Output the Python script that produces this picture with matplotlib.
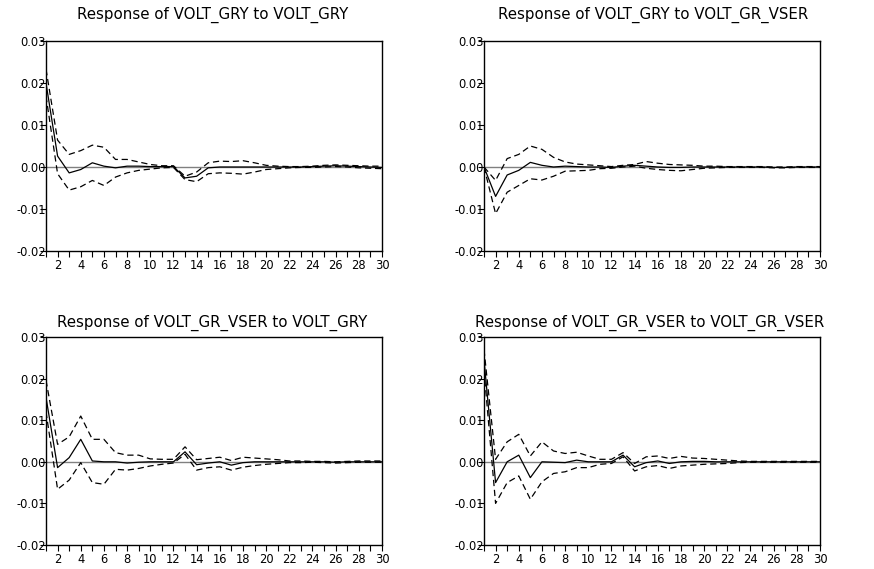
import matplotlib
matplotlib.use("Agg")
import matplotlib.pyplot as plt
import numpy as np

plt.rcParams['font.family'] = ['DejaVu Sans']

periods = list(range(1, 31))

# Response of VOLT_GRY to VOLT_GRY
gry_gry = [0.0200, 0.0026, -0.0014, -0.0006, 0.0010, 0.0002, -0.0002, 0.0002, 0.0002, 0.0001,
           0.0001, 0.0001, -0.0026, -0.0022, -0.0002, 0.0000, 0.0000, 0.0000, 0.0000, 0.0000,
           0.0000, 0.0000, 0.0000, 0.0001, 0.0002, 0.0003, 0.0002, 0.0001, 0.0000, -0.0001]
gry_gry_up = [0.0233, 0.0064, 0.0030, 0.0039, 0.0052, 0.0047, 0.0018, 0.0018, 0.0012, 0.0006,
              0.0003, 0.0003, -0.0022, -0.0012, 0.0010, 0.0014, 0.0013, 0.0015, 0.0010, 0.0004,
              0.0002, 0.0001, 0.0001, 0.0002, 0.0004, 0.0005, 0.0004, 0.0003, 0.0002, 0.0002]
gry_gry_lo = [0.0169, -0.0016, -0.0055, -0.0047, -0.0032, -0.0044, -0.0024, -0.0014, -0.0008, -0.0005,
              -0.0002, -0.0001, -0.0030, -0.0035, -0.0016, -0.0014, -0.0015, -0.0017, -0.0012, -0.0006,
              -0.0004, -0.0002, -0.0001, -0.0001, 0.0000, 0.0001, 0.0000, -0.0002, -0.0003, -0.0004]

# Response of VOLT_GRY to VOLT_GR_VSER
gry_vser = [0.0000, -0.0070, -0.0019, -0.0008, 0.0011, 0.0004, 0.0000, 0.0002, 0.0001, 0.0000,
            0.0000, -0.0001, 0.0002, 0.0004, 0.0002, 0.0000, -0.0001, -0.0001, 0.0000, 0.0000,
            0.0000, 0.0000, 0.0000, 0.0000, 0.0000, -0.0001, -0.0001, 0.0000, 0.0000, 0.0000]
gry_vser_up = [0.0000, -0.0032, 0.0020, 0.0030, 0.0050, 0.0042, 0.0023, 0.0012, 0.0007, 0.0005,
               0.0003, 0.0001, 0.0004, 0.0006, 0.0013, 0.0009, 0.0006, 0.0005, 0.0004, 0.0002,
               0.0002, 0.0001, 0.0001, 0.0001, 0.0001, 0.0000, 0.0000, 0.0001, 0.0001, 0.0001]
gry_vser_lo = [0.0000, -0.0111, -0.0060, -0.0044, -0.0028, -0.0031, -0.0022, -0.0010, -0.0009, -0.0008,
               -0.0004, -0.0003, 0.0000, 0.0002, -0.0003, -0.0006, -0.0008, -0.0009, -0.0006, -0.0003,
               -0.0002, -0.0001, -0.0001, -0.0001, -0.0001, -0.0002, -0.0002, -0.0001, -0.0001, -0.0001]

# Response of VOLT_GR_VSER to VOLT_GRY
vser_gry = [0.0155, -0.0014, 0.0010, 0.0054, 0.0002, 0.0000, 0.0000, -0.0003, -0.0001, 0.0000,
            0.0000, 0.0000, 0.0024, -0.0007, -0.0003, 0.0000, -0.0008, -0.0002, 0.0000, 0.0000,
            0.0000, 0.0000, 0.0000, 0.0000, 0.0000, -0.0001, 0.0000, 0.0000, 0.0000, 0.0000]
vser_gry_up = [0.0196, 0.0042, 0.0060, 0.0110, 0.0054, 0.0054, 0.0022, 0.0016, 0.0016, 0.0007,
               0.0006, 0.0006, 0.0036, 0.0005, 0.0008, 0.0011, 0.0003, 0.0011, 0.0009, 0.0007,
               0.0005, 0.0002, 0.0002, 0.0001, 0.0001, 0.0000, 0.0001, 0.0002, 0.0002, 0.0002]
vser_gry_lo = [0.0120, -0.0066, -0.0044, -0.0002, -0.0050, -0.0054, -0.0018, -0.0020, -0.0016, -0.0010,
               -0.0006, -0.0003, 0.0018, -0.0020, -0.0014, -0.0012, -0.0020, -0.0013, -0.0009, -0.0006,
               -0.0004, -0.0002, -0.0002, -0.0001, -0.0002, -0.0003, -0.0002, -0.0001, -0.0001, -0.0001]

# Response of VOLT_GR_VSER to VOLT_GR_VSER
vser_vser = [0.0245, -0.0050, 0.0000, 0.0016, -0.0038, 0.0000, -0.0001, -0.0002, 0.0004, 0.0000,
             0.0000, 0.0000, 0.0016, -0.0012, -0.0002, 0.0002, -0.0004, 0.0000, 0.0001, 0.0001,
             0.0000, 0.0000, 0.0000, 0.0000, 0.0000, 0.0000, 0.0000, 0.0000, 0.0000, 0.0000]
vser_vser_up = [0.0270, 0.0006, 0.0048, 0.0066, 0.0014, 0.0048, 0.0026, 0.0020, 0.0023, 0.0014,
                0.0006, 0.0006, 0.0022, -0.0004, 0.0012, 0.0014, 0.0008, 0.0013, 0.0009, 0.0008,
                0.0006, 0.0004, 0.0002, 0.0001, 0.0001, 0.0001, 0.0001, 0.0001, 0.0001, 0.0001]
vser_vser_lo = [0.0220, -0.0100, -0.0050, -0.0034, -0.0090, -0.0048, -0.0028, -0.0024, -0.0014, -0.0014,
                -0.0006, -0.0004, 0.0012, -0.0022, -0.0012, -0.0009, -0.0016, -0.0010, -0.0008, -0.0006,
                -0.0005, -0.0004, -0.0002, -0.0001, -0.0001, -0.0001, -0.0001, -0.0001, -0.0001, -0.0001]

titles = ["Response of VOLT_GRY to VOLT_GRY",
          "Response of VOLT_GRY to VOLT_GR_VSER",
          "Response of VOLT_GR_VSER to VOLT_GRY",
          "Response of VOLT_GR_VSER to VOLT_GR_VSER"]
series = [(gry_gry, gry_gry_up, gry_gry_lo),
          (gry_vser, gry_vser_up, gry_vser_lo),
          (vser_gry, vser_gry_up, vser_gry_lo),
          (vser_vser, vser_vser_up, vser_vser_lo)]
ytick_vals = [-0.02, -0.01, 0.00, 0.01, 0.02, 0.03]
ytick_labels = ["-0.02", "-0.01", "0.00", "0.01", "0.02", "0.03"]

W, H = 874, 569
fig = plt.figure(figsize=(W / 100, H / 100), dpi=100)

# axes boxes in pixel coords: (left, top, right, bottom)
boxes = [(46, 41, 382, 251), (484, 41, 820, 251),
         (46, 337, 382, 545), (484, 337, 820, 545)]
title_pos = [(213, 15), (653, 15), (212, 323), (650, 323)]

for (l, t, r, b), (sol, up, lo), title, (tx, ty) in zip(boxes, series, titles, title_pos):
    ax = fig.add_axes([l / W, (H - b) / H, (r - l) / W, (b - t) / H])
    ax.axhline(0, color='#808080', lw=1.0, zorder=1)
    ax.plot(periods, up, color='black', lw=0.9, ls=(0, (5, 3)), zorder=2)
    ax.plot(periods, lo, color='black', lw=0.9, ls=(0, (5, 3)), zorder=2)
    ax.plot(periods, sol, color='black', lw=0.9, zorder=3)
    ax.set_xlim(1, 30)
    ax.set_ylim(-0.02, 0.03)
    ax.set_xticks(periods)
    ax.set_xticklabels([str(p) if p % 2 == 0 else "" for p in periods])
    ax.set_yticks(ytick_vals)
    ax.set_yticklabels(ytick_labels)
    ax.tick_params(axis='x', direction='out', length=4, width=0.8, pad=2, labelsize=8.3)
    ax.tick_params(axis='y', direction='out', length=4, width=0.8, pad=-4, labelsize=8.3)
    for s in ax.spines.values():
        s.set_linewidth(1.0)
        s.set_color('black')
    fig.text(tx / W, 1 - ty / H, title, ha='center', va='center', fontsize=10.8)

fig.savefig("out.png", dpi=100)
